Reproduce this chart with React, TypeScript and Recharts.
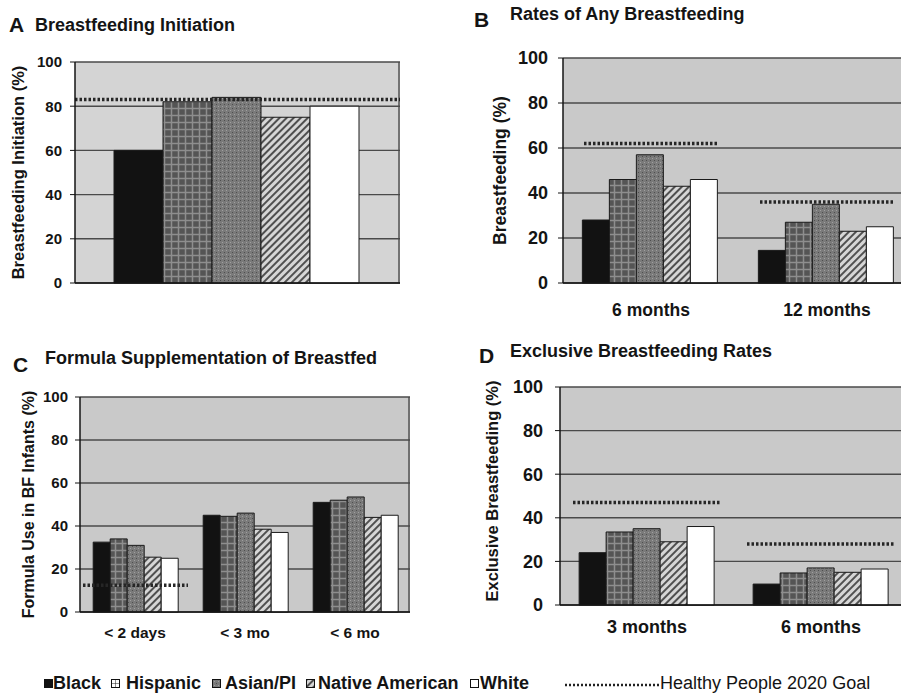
import React from "react";
import { BarChart, Bar, XAxis, YAxis, CartesianGrid, ReferenceLine } from "recharts";

// groups in legend order
const GROUPS = ["Black", "Hispanic", "Asian/PI", "Native American", "White"];

// A: breastfeeding initiation (%)
const initiation = [60, 82, 84, 75, 80];
const initiationGoal = 83;

// B: any breastfeeding (%)
const anyBfAges = ["6 months", "12 months"];
const anyBf6mo = [28, 46, 57, 43, 46];
const anyBf12mo = [14.5, 27, 35, 23, 25];
const anyBfGoals = [62, 36];

// C: formula use in BF infants (%)
const formulaAges = ["< 2 days", "< 3 mo", "< 6 mo"];
const formula2d = [32.5, 34, 31, 25.5, 25];
const formula3mo = [45, 44.5, 46, 38.5, 37];
const formula6mo = [51, 52, 53.5, 44, 45];
const formulaGoals = [12.5, null, null];

// D: exclusive breastfeeding (%)
const exclusiveAges = ["3 months", "6 months"];
const exclusive3mo = [24, 33.5, 35, 29, 36];
const exclusive6mo = [9.6, 14.7, 17, 15, 16.5];
const exclusiveGoals = [47, 28];

const TICKS = [0, 20, 40, 60, 80, 100];
const FONT = '"Liberation Sans", Arial, sans-serif';
const INK = "#141414";

const FILLS: Record<string, string> = {
  Black: "#121212",
  Hispanic: "url(#pat-hisp)",
  "Asian/PI": "url(#pat-asian)",
  "Native American": "url(#pat-native)",
  White: "#ffffff",
};

function buildRows(names: string[], values: number[][], goals?: (number | null)[]) {
  return names.map((name, i) => {
    const row: Record<string, any> = { name, goal: goals ? goals[i] : null };
    GROUPS.forEach((g, j) => (row[g] = values[i][j]));
    return row;
  });
}

const rowsA = buildRows(["All"], [initiation]);
const rowsB = buildRows(anyBfAges, [anyBf6mo, anyBf12mo], anyBfGoals);
const rowsC = buildRows(formulaAges, [formula2d, formula3mo, formula6mo], formulaGoals);
const rowsD = buildRows(exclusiveAges, [exclusive3mo, exclusive6mo], exclusiveGoals);

function GoalDots(props: any) {
  const { x, y, width, payload } = props;
  if (!payload || payload.goal == null) return <g />;
  return (
    <line x1={x} x2={x + width} y1={y} y2={y} stroke="#262626" strokeWidth={3.5} strokeDasharray="2.5 2" />
  );
}

function yLabel(text: string, dx: number, dy: number, size: number) {
  return (props: any) => {
    const vb = props.viewBox;
    const x = vb.x + dx;
    const y = vb.y + vb.height / 2 + dy;
    return (
      <text
        x={x}
        y={y}
        transform={`rotate(-90 ${x} ${y})`}
        textAnchor="middle"
        dominantBaseline="central"
        style={{ fontFamily: FONT, fontWeight: 700, fontSize: size, fill: INK }}
      >
        {text}
      </text>
    );
  };
}

interface PanelProps {
  rows: Record<string, any>[];
  width: number;
  height: number;
  margin: { top: number; right: number; bottom: number; left: number };
  yWidth: number;
  tickMargin: number;
  tickFont: number;
  label: string;
  labelDx: number;
  labelDy?: number;
  labelFont: number;
  catGap: string;
  xHeight: number;
  xTickMargin?: number;
  xFont?: number;
  showX: boolean;
  goalSize?: number;
  gridFill?: string;
  refGoal?: number;
}

function Panel(p: PanelProps) {
  return (
    <BarChart width={p.width} height={p.height} data={p.rows} margin={p.margin} barGap={0} barCategoryGap={p.catGap}>
      <CartesianGrid
        fill={p.gridFill || "#c9c9c9"}
        stroke="#4a4a4a"
        strokeWidth={1.4}
        verticalCoordinatesGenerator={({ offset }: any) => [offset.left + offset.width - 1]}
      />
      <XAxis
        dataKey="name"
        height={p.xHeight}
        axisLine={{ stroke: INK, strokeWidth: 1.5 }}
        tickLine={false}
        tickSize={0}
        tickMargin={p.xTickMargin || 0}
        tick={p.showX ? { fontFamily: FONT, fontWeight: 700, fontSize: p.xFont, fill: INK } : false}
      />
      <XAxis xAxisId="goal" dataKey="name" hide />
      <YAxis
        width={p.yWidth}
        domain={[0, 100]}
        ticks={TICKS}
        interval={0}
        tickSize={5}
        tickMargin={p.tickMargin}
        axisLine={{ stroke: INK, strokeWidth: 1.5 }}
        tickLine={{ stroke: INK }}
        tick={{ fontFamily: FONT, fontWeight: 700, fontSize: p.tickFont, fill: INK }}
        label={yLabel(p.label, p.labelDx, p.labelDy || 0, p.labelFont)}
      />
      {GROUPS.map((g) => (
        <Bar key={g} dataKey={g} fill={FILLS[g]} stroke="#1a1a1a" strokeWidth={1} isAnimationActive={false} />
      ))}
      {p.goalSize ? (
        <Bar
          xAxisId="goal"
          dataKey="goal"
          barSize={p.goalSize}
          fill="none"
          shape={GoalDots}
          isAnimationActive={false}
        />
      ) : null}
      {p.refGoal != null ? (
        <ReferenceLine y={p.refGoal} stroke="#262626" strokeWidth={3.5} strokeDasharray="2.5 2" />
      ) : null}
    </BarChart>
  );
}

const titleStyle: React.CSSProperties = {
  position: "absolute",
  fontFamily: FONT,
  fontWeight: 700,
  fontSize: 18,
  color: INK,
  whiteSpace: "nowrap",
  lineHeight: 1,
};
const letterStyle: React.CSSProperties = { ...titleStyle, fontSize: 21 };

const legendSwatchX = [44, 111, 212, 306, 470];
const legendTextX = [53, 126, 225, 318, 480];

function Swatch({ fill, left }: { fill: string; left: number }) {
  return (
    <svg width={9} height={9} style={{ position: "absolute", left, top: 679 }}>
      <rect x={0.5} y={0.5} width={8} height={8} fill={fill} stroke="#111" strokeWidth={1} />
    </svg>
  );
}

export default function App() {
  return (
    <div style={{ position: "absolute", left: 0, top: 0, width: 901, height: 698, background: "#fff", overflow: "hidden" }}>
      <svg width={0} height={0} style={{ position: "absolute" }}>
        <defs>
          <pattern id="pat-hisp" width={7} height={7} patternUnits="userSpaceOnUse">
            <rect width={7} height={7} fill="#555" />
            <path d="M0 3.5H7M3.5 0V7" stroke="#8e8e8e" strokeWidth={1.5} />
          </pattern>
          <pattern id="pat-asian" width={4} height={4} patternUnits="userSpaceOnUse">
            <rect width={4} height={4} fill="#7a7a7a" />
            <rect x={0} y={0} width={1} height={1} fill="#4e4e4e" />
            <rect x={2} y={2} width={1} height={1} fill="#a0a0a0" />
          </pattern>
          <pattern id="pat-native" width={5} height={5} patternUnits="userSpaceOnUse" patternTransform="rotate(45)">
            <rect width={5} height={5} fill="#d6d6d6" />
            <line x1={1} y1={0} x2={1} y2={5} stroke="#2e2e2e" strokeWidth={1.6} />
          </pattern>
          <pattern id="pat-hisp-sw" width={4} height={4} patternUnits="userSpaceOnUse">
            <rect width={4} height={4} fill="#fff" />
            <path d="M0 0H4M0 0V4" stroke="#222" strokeWidth={1} />
          </pattern>
        </defs>
      </svg>

      {/* titles */}
      <div style={{ ...letterStyle, left: 9, top: 14 }}>A</div>
      <div style={{ ...titleStyle, left: 35, top: 16 }}>Breastfeeding Initiation</div>
      <div style={{ ...letterStyle, left: 474, top: 9 }}>B</div>
      <div style={{ ...titleStyle, left: 510, top: 5 }}>Rates of Any Breastfeeding</div>
      <div style={{ ...letterStyle, left: 13, top: 354 }}>C</div>
      <div style={{ ...titleStyle, left: 45, top: 349 }}>Formula Supplementation of Breastfed</div>
      <div style={{ ...letterStyle, left: 479, top: 345 }}>D</div>
      <div style={{ ...titleStyle, left: 510, top: 342 }}>Exclusive Breastfeeding Rates</div>

      <div style={{ position: "absolute", left: 0, top: 0 }}>
        <Panel
          rows={rowsA}
          width={410}
          height={300}
          margin={{ top: 62, right: 10, bottom: 15, left: 0 }}
          yWidth={75}
          tickMargin={8}
          tickFont={15}
          label="Breastfeeding Initiation (%)"
          labelDx={18}
          labelFont={16.5}
          catGap="12%"
          xHeight={2}
          showX={false}
          gridFill="#d4d4d4"
          refGoal={initiationGoal}
        />
      </div>
      <div style={{ position: "absolute", left: 450, top: 0 }}>
        <Panel
          rows={rowsB}
          width={465}
          height={330}
          margin={{ top: 58, right: 0, bottom: 7, left: 0 }}
          yWidth={113}
          tickMargin={10}
          tickFont={18}
          label="Breastfeeding (%)"
          labelDx={50}
          labelFont={17.5}
          catGap="11%"
          xHeight={40}
          xTickMargin={21}
          xFont={17.5}
          showX={true}
          goalSize={135}
        />
      </div>
      <div style={{ position: "absolute", left: 0, top: 330 }}>
        <Panel
          rows={rowsC}
          width={450}
          height={320}
          margin={{ top: 67, right: 40, bottom: 0, left: 0 }}
          yWidth={80}
          tickMargin={7}
          tickFont={15}
          label="Formula Use in BF Infants (%)"
          labelDx={28}
          labelFont={16}
          catGap="12%"
          xHeight={38}
          xTickMargin={15}
          xFont={15.5}
          showX={true}
          goalSize={105}
        />
      </div>
      <div style={{ position: "absolute", left: 450, top: 330 }}>
        <Panel
          rows={rowsD}
          width={458}
          height={320}
          margin={{ top: 57, right: 0, bottom: 0, left: 0 }}
          yWidth={110}
          tickMargin={12}
          tickFont={18}
          label="Exclusive Breastfeeding (%)"
          labelDx={42}
          labelDy={-5}
          labelFont={16.5}
          catGap="11%"
          xHeight={45}
          xTickMargin={15}
          xFont={18}
          showX={true}
          goalSize={148}
        />
      </div>

      {/* legend */}
      {GROUPS.map((g, i) => (
        <React.Fragment key={g}>
          <Swatch fill={g === "Hispanic" ? "url(#pat-hisp-sw)" : FILLS[g]} left={legendSwatchX[i]} />
          <div
            style={{ position: "absolute", left: legendTextX[i], top: 674, fontFamily: FONT, fontWeight: 700, fontSize: 18, lineHeight: 1, color: INK, whiteSpace: "nowrap" }}
          >
            {g}
          </div>
        </React.Fragment>
      ))}
      <svg width={95} height={10} style={{ position: "absolute", left: 565, top: 680 }}>
        <line x1={0} x2={95} y1={5} y2={5} stroke="#222" strokeWidth={2.5} strokeDasharray="2 2" />
      </svg>
      <div style={{ position: "absolute", left: 660, top: 674, fontFamily: FONT, fontSize: 18, lineHeight: 1, color: INK, whiteSpace: "nowrap" }}>
        Healthy People 2020 Goal
      </div>
    </div>
  );
}
